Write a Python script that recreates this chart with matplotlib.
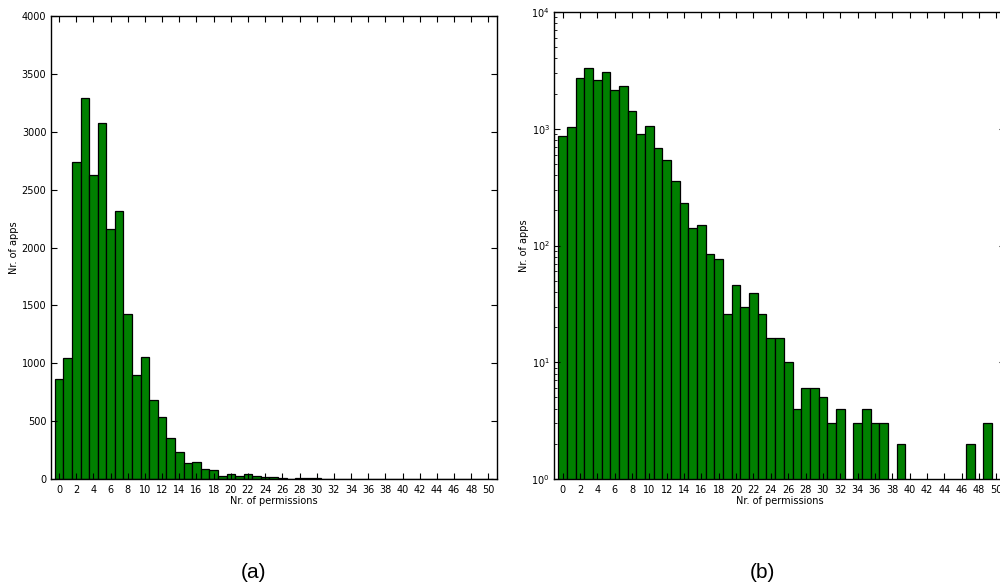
import matplotlib
matplotlib.use("Agg")
import matplotlib.pyplot as plt
import numpy as np

# number of requested permissions per app, 0..50
perms = list(range(51))
n_apps = [
    868, 1045, 2740, 3295, 2628, 3075, 2160, 2312, 1425, 895,
    1050, 682, 535, 354, 231, 142, 151, 84, 76, 26,
    46, 30, 39, 26, 16, 16, 10, 4, 6, 6,
    5, 3, 4, 0, 3, 4, 3, 3, 0, 2,
    0, 0, 0, 0, 0, 0, 0, 2, 0, 3,
    0,
]
x_ticks = list(range(0, 51, 2))

plt.rcParams.update({
    "font.family": "DejaVu Sans",
    "font.size": 7,
    "xtick.direction": "in",
    "ytick.direction": "in",
    "xtick.top": True,
    "ytick.right": True,
    "xtick.major.size": 4,
    "ytick.major.size": 4,
    "xtick.minor.size": 2,
    "ytick.minor.size": 2,
    "xtick.major.pad": 4,
    "ytick.major.pad": 3,
    "axes.linewidth": 1.0,
})

fig = plt.figure(figsize=(10, 5.86), dpi=100)
ax_lin = fig.add_axes([0.0505, 107 / 586, 0.4465, 463 / 586])
ax_log = fig.add_axes([0.554, 107 / 586, 0.451, 467 / 586])

for ax in (ax_lin, ax_log):
    ax.bar(perms, n_apps, width=1.0, color="green", edgecolor="black",
           linewidth=0.9, align="center")
    ax.set_xlim(-1, 51)
    ax.set_xticks(x_ticks)
    ax.set_xlabel("Nr. of permissions", labelpad=1)
    ax.set_ylabel("Nr. of apps", labelpad=2)

ax_lin.set_ylim(0, 4000)
ax_lin.set_yticks(np.arange(0, 4001, 500))

ax_log.set_yscale("log")
ax_log.set_ylim(1, 1e4)

fig.text(0.254, 1 - 572 / 586, "(a)", ha="center", va="center",
         fontsize=15, family="Liberation Sans")
fig.text(0.762, 1 - 572 / 586, "(b)", ha="center", va="center",
         fontsize=15, family="Liberation Sans")

fig.savefig("out.png", dpi=100)
